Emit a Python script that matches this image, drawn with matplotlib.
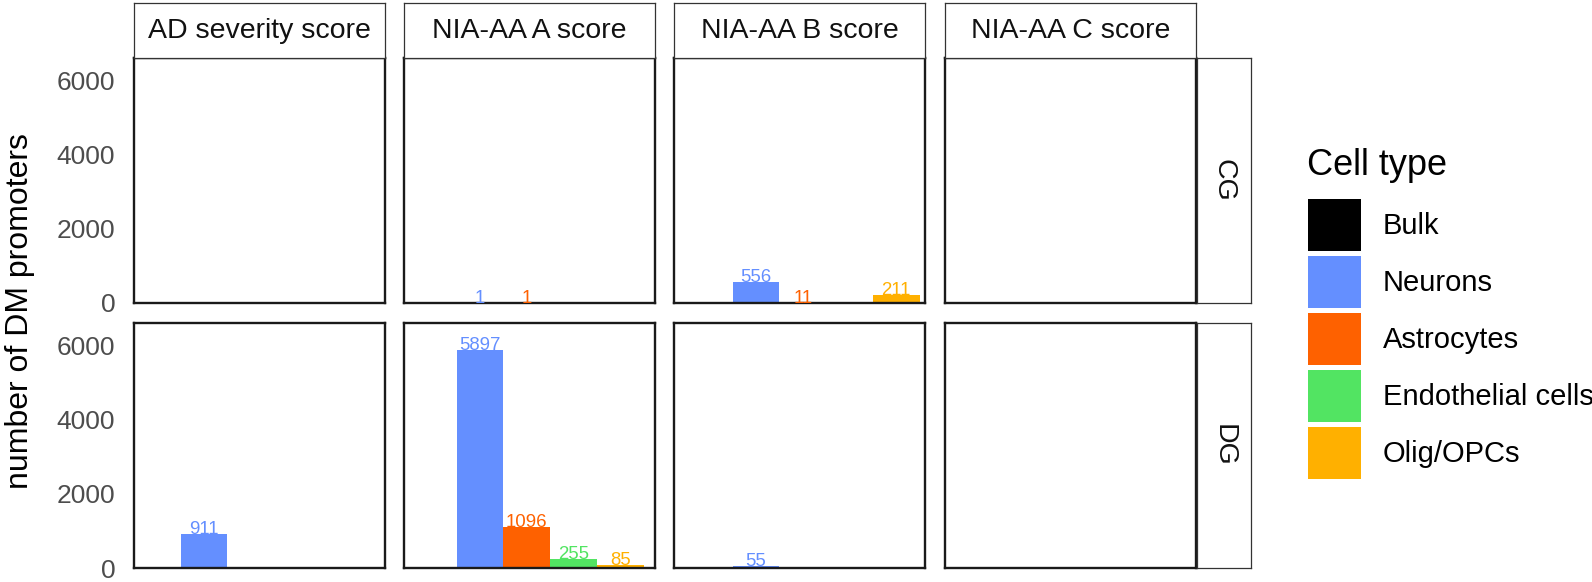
import matplotlib
matplotlib.use("Agg")
import matplotlib.pyplot as plt
import numpy as np
from matplotlib.patches import Patch

plt.rcParams['font.family'] = ['Liberation Sans', 'DejaVu Sans']

# --- data ------------------------------------------------------------------
cell_types = ['Bulk', 'Neurons', 'Astrocytes', 'Endothelial cells', 'Olig/OPCs']
cell_colors = ['#000000', '#648FFF', '#FE6100', '#52E462', '#FFB000']
scores = ['AD severity score', 'NIA-AA A score', 'NIA-AA B score', 'NIA-AA C score']
regions = ['CG', 'DG']

nan = np.nan
# one row per score, one column per cell type (nan = no bar)
cg_counts = [
    [nan, nan, nan, nan, nan],
    [nan, 1, 1, nan, nan],
    [nan, 556, 11, nan, 211],
    [nan, nan, nan, nan, nan],
]
dg_counts = [
    [nan, 911, nan, nan, nan],
    [nan, 5897, 1096, 255, 85],
    [nan, 55, nan, nan, nan],
    [nan, nan, nan, nan, nan],
]
counts = {'CG': cg_counts, 'DG': dg_counts}
y_ticks = [0, 2000, 4000, 6000]

# --- layout (pixels) --------------------------------------------------------
W, H = 1592, 582
fig = plt.figure(figsize=(W / 100, H / 100), dpi=100)


def px_axes(left, top, width, height):
    return fig.add_axes([left / W, 1 - (top + height) / H, width / W, height / H])


col_left = [134, 404, 674, 945]
panel_w, panel_h = 251, 245
row_top = [58, 323]
bar_px = 46.7                  # width of one dodged bar in pixels
group_shift = [0, 6, 12, 18]   # bar group drifts right a little in each column
units = panel_w / bar_px


def style_box(ax, lw, color):
    ax.set_xticks([])
    ax.set_yticks([])
    for sp in ax.spines.values():
        sp.set_linewidth(lw)
        sp.set_color(color)


for r, region in enumerate(regions):
    for c, score in enumerate(scores):
        ax = px_axes(col_left[c], row_top[r], panel_w, panel_h)
        vals = counts[region][c]
        for j, v in enumerate(vals):
            if np.isnan(v):
                continue
            ax.bar(j, v, width=1, color=cell_colors[j], linewidth=0)
            ax.text(j, v, f'{int(v)}', ha='center', va='baseline',
                    color=cell_colors[j], fontsize=13.4, clip_on=False)
        lo = -0.5 - group_shift[c] / bar_px
        ax.set_xlim(lo, lo + units)
        ax.set_ylim(0, 6620)
        ax.set_xticks([])
        ax.set_yticks(y_ticks)
        ax.tick_params(axis='y', length=0, pad=13.5, labelsize=19,
                       labelcolor='#4d4d4d', labelleft=(c == 0))
        for sp in ax.spines.values():
            sp.set_linewidth(1.7)
            sp.set_color('#1a1a1a')

# facet strips on top
for c, score in enumerate(scores):
    sax = px_axes(col_left[c], 3, panel_w, 55)
    style_box(sax, 0.9, '#333333')
    sax.text(0.5, 0.5, score, ha='center', va='center', fontsize=20.5,
             color='#111111', transform=sax.transAxes)

# facet strips on the right
for r, region in enumerate(regions):
    sax = px_axes(1197, row_top[r], 54, panel_h)
    style_box(sax, 0.9, '#333333')
    sax.text(0.5, 0.5, region, ha='center', va='center', fontsize=20.5,
             rotation=-90, color='#111111', transform=sax.transAxes)

fig.text(20 / W, 1 - 311 / H, 'number of DM promoters', rotation=90,
         ha='center', va='center', fontsize=23)

# legend: title drawn separately so the gap to the keys can match ggplot
fig.text(1307 / W, 1 - 175 / H, 'Cell type', ha='left', va='baseline',
         fontsize=26)
handles = [Patch(facecolor=col, edgecolor='none') for col in cell_colors]
fig.legend(handles, cell_types, loc='upper left',
           bbox_to_anchor=(1308 / W, 1 - 199 / H), bbox_transform=fig.transFigure,
           frameon=False, fontsize=21,
           handlelength=1.82, handleheight=2.366, labelspacing=0.17,
           handletextpad=0.75, borderpad=0, borderaxespad=0)

fig.savefig('out.png', dpi=100)
